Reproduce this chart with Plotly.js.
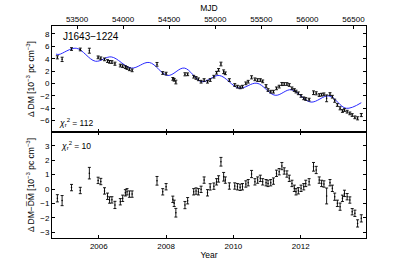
<!DOCTYPE html>
<html>
<head>
<meta charset="utf-8">
<script src="https://cdn.plot.ly/plotly-3.0.1.min.js"></script>
<style>html,body{margin:0;padding:0;background:#fff;}#chart{width:407px;height:265px;}</style>
</head>
<body>
<div id="chart"></div>
<script>
// Observation epochs (year)
var epochYear = [2004.77,2004.91,2005.19,2005.45,2005.72,2005.98,2006.06,2006.17,2006.26,2006.32,2006.39,2006.48,2006.64,2006.71,2006.79,2006.84,2006.91,2006.99,
2007.73,2007.90,2008.00,2008.20,2008.24,2008.29,2008.56,2008.64,2008.82,2008.89,2008.96,2009.04,2009.13,2009.23,2009.31,2009.42,2009.50,2009.56,2009.63,2009.71,2009.76,2009.88,
2010.04,2010.12,2010.20,2010.27,2010.37,2010.44,2010.54,2010.64,2010.72,2010.80,2010.87,2010.97,2011.03,2011.11,2011.19,2011.28,2011.36,2011.44,2011.51,2011.59,2011.66,2011.74,2011.81,2011.86,2011.93,
2012.01,2012.09,2012.15,2012.25,2012.38,2012.46,2012.55,2012.62,2012.69,2012.77,2012.87,2012.94,2013.01,2013.09,2013.17,2013.24,2013.30,2013.38,2013.46,2013.53,2013.61,2013.69,2013.80];
// Delta DM (10^-3 pc cm^-3), top panel
var deltaDM = [4.23,3.9,5.57,5.5,5.3,4.23,4.07,3.9,3.63,3.5,3.47,3.2,2.9,2.8,2.65,2.5,2.3,2.13,
3.1,1.7,1.6,0.75,0.6,0.24,1.49,1.49,1.1,0.9,0.68,0.29,0.56,0.29,0.56,1.1,1.74,2.2,3.15,1.9,1.65,0.56,
-0.24,-0.51,-0.62,-0.51,0.03,0.29,1.0,0.68,0.56,0.56,0.35,-0.4,-1.05,-1.32,-1.32,-0.78,-0.5,-0.08,-0.08,-0.08,-0.24,-0.78,-1.05,-1.3,-1.58,
-2.0,-2.39,-2.5,-2.6,-1.49,-1.58,-1.86,-1.8,-1.74,-2.39,-1.7,-2.13,-2.78,-3.47,-4.0,-4.44,-4.28,-4.55,-4.82,-5.09,-5.46,-5.62,-5.09];
// Residual Delta DM - mean DM, bottom panel
var residDM = [-0.64,-0.80,0.10,-0.10,1.10,0.60,0.52,-0.13,-0.50,-0.76,-0.75,-1.10,-0.88,-0.64,-0.26,-0.19,-0.35,-0.35,
0.57,-0.19,0.16,-0.71,-0.99,-1.64,-1.11,-0.81,-0.19,-0.14,-0.19,-0.02,0.62,-0.26,0.15,0.20,0.50,0.70,1.89,0.85,0.62,0.21,
0.21,0.16,0.12,0.16,0.35,0.44,1.04,0.50,0.62,0.74,0.50,0.44,0.39,0.44,0.55,1.09,1.20,1.59,1.25,1.04,0.74,0.39,0.05,-0.19,-0.12,
0.05,0.16,0.39,0.50,1.54,1.32,0.62,0.39,0.35,-0.48,0.44,0.05,-0.53,-0.99,-1.22,-0.64,-0.30,-0.53,-0.76,-1.57,-1.68,-2.38,-2.03];
// Uncertainties
var dmErr = [0.25,0.35,0.22,0.22,0.4,0.22,0.22,0.22,0.22,0.22,0.22,0.25,0.22,0.22,0.22,0.22,0.22,0.22,
0.3,0.22,0.22,0.22,0.22,0.3,0.25,0.22,0.22,0.22,0.22,0.22,0.22,0.22,0.22,0.22,0.22,0.22,0.3,0.3,0.22,0.22,
0.22,0.22,0.22,0.22,0.22,0.22,0.25,0.22,0.22,0.22,0.22,0.22,0.22,0.22,0.22,0.22,0.22,0.25,0.22,0.22,0.22,0.22,0.22,0.22,0.22,
0.22,0.22,0.22,0.22,0.3,0.25,0.22,0.22,0.22,0.55,0.22,0.22,0.25,0.22,0.25,0.22,0.22,0.22,0.22,0.22,0.22,0.25,0.25];
// DM model curve (read at extrema)
var modelYear = [2004.73,2004.82,2005.33,2005.90,2006.37,2006.97,2007.50,2008.05,2008.54,2009.06,2009.58,2010.17,2010.70,2011.24,2011.72,2012.30,2012.84,2013.35,2013.80];
var modelDM   = [4.75,4.70,5.70,3.60,4.30,2.50,3.40,1.30,2.50,0.30,1.30,-0.75,0.05,-1.90,-1.00,-3.00,-2.00,-4.00,-3.10];

var xTicks = [2006,2008,2010,2012];
var mjdTicks = [53500,54000,54500,55000,55500,56000,56500];
var topYTicks = [-6,-4,-2,0,2,4,6,8];
var botYTicks = [-3,-2,-1,0,1,2,3];

var yearRange = [2004.61, 2013.94];
function yearToMJD(y){ return 51544.5 + (y-2000)*365.25; }
var mjdRange = [yearToMJD(yearRange[0]), yearToMJD(yearRange[1])];

var FONT = 'Liberation Sans, Arial, Helvetica, sans-serif';
var errStyle = {type:'data', visible:true, color:'#000', thickness:0.9, width:1.5};

var traces = [
  {x: modelYear, y: modelDM, xaxis:'x3', yaxis:'y', mode:'lines',
   line:{color:'#2a2aff', width:1, shape:'spline', smoothing:1}, hoverinfo:'skip'},
  {x: epochYear, y: deltaDM, xaxis:'x3', yaxis:'y', mode:'markers',
   marker:{size:1.5, color:'#000'}, error_y: Object.assign({array: dmErr}, errStyle)},
  {x: epochYear.map(yearToMJD), y: deltaDM, xaxis:'x2', yaxis:'y', mode:'markers',
   marker:{size:0.1, color:'rgba(0,0,0,0)'}, hoverinfo:'skip'},
  {x: epochYear, y: residDM, xaxis:'x', yaxis:'y2', mode:'markers',
   marker:{size:1.5, color:'#000'}, error_y: Object.assign({array: dmErr}, errStyle)}
];

var axBase = {showline:true, linecolor:'#000', linewidth:1, ticks:'inside', ticklen:3, tickcolor:'#000',
  showgrid:false, zeroline:false, tickfont:{family:FONT, size:8, color:'#000'}};

var layout = {
  width:407, height:265, showlegend:false,
  margin:{l:52, r:41, t:26, b:27, pad:0},
  paper_bgcolor:'#fff', plot_bgcolor:'#fff',
  font:{family:FONT, size:8, color:'#000'},
  xaxis: Object.assign({}, axBase, {domain:[0,1], anchor:'y2', range:yearRange, tickvals:xTicks,
    ticktext:xTicks.map(String), mirror:'ticks',
    title:{text:'Year', font:{family:FONT, size:8.5}, standoff:2}}),
  xaxis3: Object.assign({}, axBase, {domain:[0,1], anchor:'y', matches:'x', range:yearRange, tickvals:xTicks,
    showticklabels:false}),
  xaxis2: Object.assign({}, axBase, {overlaying:'x3', side:'top', anchor:'y', range:mjdRange, tickvals:mjdTicks,
    ticktext:mjdTicks.map(String),
    title:{text:'MJD', font:{family:FONT, size:8.5}, standoff:1}}),
  yaxis: Object.assign({}, axBase, {domain:[0.5,1], anchor:'x3', range:[-7.83, 9.29], tickvals:topYTicks,
    mirror:'ticks',
    title:{text:'\u0394 DM [10<sup>\u22123</sup> pc cm<sup>\u22123</sup>]', font:{family:FONT, size:8.5}, standoff:4}}),
  yaxis2: Object.assign({}, axBase, {domain:[0,0.5], anchor:'x', range:[-3.39, 3.95], tickvals:botYTicks,
    mirror:'ticks',
    title:{text:'\u0394 DM\u2212D\u0305M\u0305 [10<sup>\u22123</sup> pc cm<sup>\u22123</sup>]', font:{family:FONT, size:8.5}, standoff:4}}),
  annotations:[
    {text:'J1643\u22121224', xref:'paper', yref:'paper', x:0.028, y:0.95, xanchor:'left', yanchor:'middle',
     showarrow:false, font:{family:FONT, size:10, color:'#000'}},
    {text:'<i>\u03c7</i><sub>r</sub><sup>2</sup> = 112', xref:'paper', yref:'paper', x:0.015, y:0.545, xanchor:'left', yanchor:'middle',
     showarrow:false, font:{family:FONT, size:8.5, color:'#000'}},
    {text:'<i>\u03c7</i><sub>r</sub><sup>2</sup> = 10', xref:'paper', yref:'paper', x:0.022, y:0.435, xanchor:'left', yanchor:'middle',
     showarrow:false, font:{family:FONT, size:8.5, color:'#000'}}
  ]
};

Plotly.newPlot('chart', traces, layout, {staticPlot:true, displayModeBar:false});
</script>
</body>
</html>
